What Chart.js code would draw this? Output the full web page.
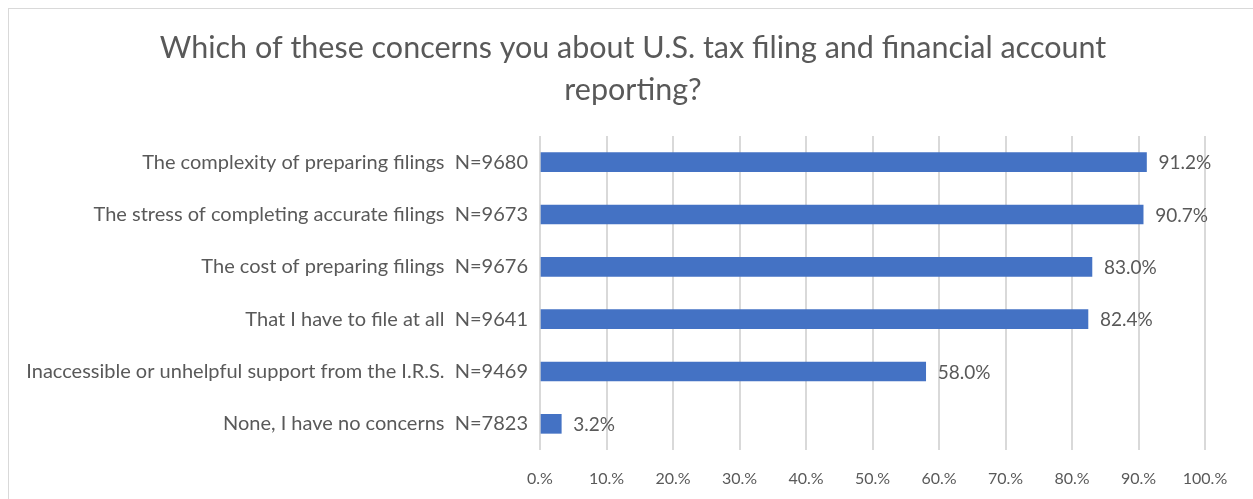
<!DOCTYPE html>
<html>
<head>
<meta charset="utf-8">
<script src="https://cdn.jsdelivr.net/npm/chart.js@4/dist/chart.umd.min.js"></script>
<style>
  html, body { margin: 0; padding: 0; background: #fff; }
  #frame { position: absolute; left: 8px; top: 8px; width: 1260px; height: 500px; border: 1px solid #d9d9d9; }
  #wrap { position: absolute; left: 0; top: 0; width: 1253px; height: 499px; }
</style>
</head>
<body>
<div id="frame"></div>
<div id="wrap"><canvas id="concernsChart"></canvas></div>
<script>
const categories = [
  "The complexity of preparing filings  N=9680",
  "The stress of completing accurate filings  N=9673",
  "The cost of preparing filings  N=9676",
  "That I have to file at all  N=9641",
  "Inaccessible or unhelpful support from the I.R.S.  N=9469",
  "None, I have no concerns  N=7823"
];
const shares = [91.2, 90.7, 83.0, 82.4, 58.0, 3.2];
const titleLines = [
  "Which of these concerns you about U.S. tax filing and financial account",
  "reporting?"
];

const textColor = '#595959';
const fontFamily = "Lato, 'Open Sans', sans-serif";

// title is drawn by hand so it can sit centred on the whole frame
const chartTitle = {
  id: 'chartTitle',
  afterDraw(chart) {
    const ctx = chart.ctx;
    ctx.save();
    ctx.font = `30.5px ${fontFamily}`;
    ctx.fillStyle = textColor;
    ctx.textAlign = 'center';
    ctx.textBaseline = 'middle';
    titleLines.forEach((line, i) => ctx.fillText(line, 633, 48 + i * 42));
    ctx.restore();
  }
};

// value labels just right of each bar
const barLabels = {
  id: 'barLabels',
  afterDatasetsDraw(chart) {
    const ctx = chart.ctx;
    const meta = chart.getDatasetMeta(0);
    ctx.save();
    ctx.font = `19px ${fontFamily}`;
    ctx.fillStyle = textColor;
    ctx.textAlign = 'left';
    ctx.textBaseline = 'middle';
    meta.data.forEach((bar, i) => {
      ctx.fillText(shares[i].toFixed(1) + '%', bar.x + 12, bar.y + 1);
    });
    ctx.restore();
  }
};

const ctx = document.getElementById('concernsChart').getContext('2d');
new Chart(ctx, {
  type: 'bar',
  data: {
    labels: categories,
    datasets: [{
      data: shares,
      backgroundColor: '#4472C4',
      barThickness: 19
    }]
  },
  options: {
    indexAxis: 'y',
    responsive: true,
    maintainAspectRatio: false,
    animation: false,
    layout: { padding: { left: 0, right: 48, top: 136, bottom: 0 } },
    plugins: {
      legend: { display: false },
      tooltip: { enabled: false },
      title: { display: false }
    },
    scales: {
      x: {
        min: 0,
        max: 100,
        ticks: {
          stepSize: 10,
          color: textColor,
          padding: 19,
          font: { family: fontFamily, size: 16 },
          callback: v => v + '.%'
        },
        grid: { color: '#d9d9d9', lineWidth: 2, drawTicks: false },
        border: { display: false },
        afterFit(scale) { scale.height = 49; }
      },
      y: {
        ticks: {
          color: textColor,
          padding: 12,
          font: { family: fontFamily, size: 20 }
        },
        grid: { display: false, drawTicks: false },
        border: { display: false },
        afterFit(scale) { scale.width = 540; }
      }
    }
  },
  plugins: [barLabels, chartTitle]
});
</script>
</body>
</html>
